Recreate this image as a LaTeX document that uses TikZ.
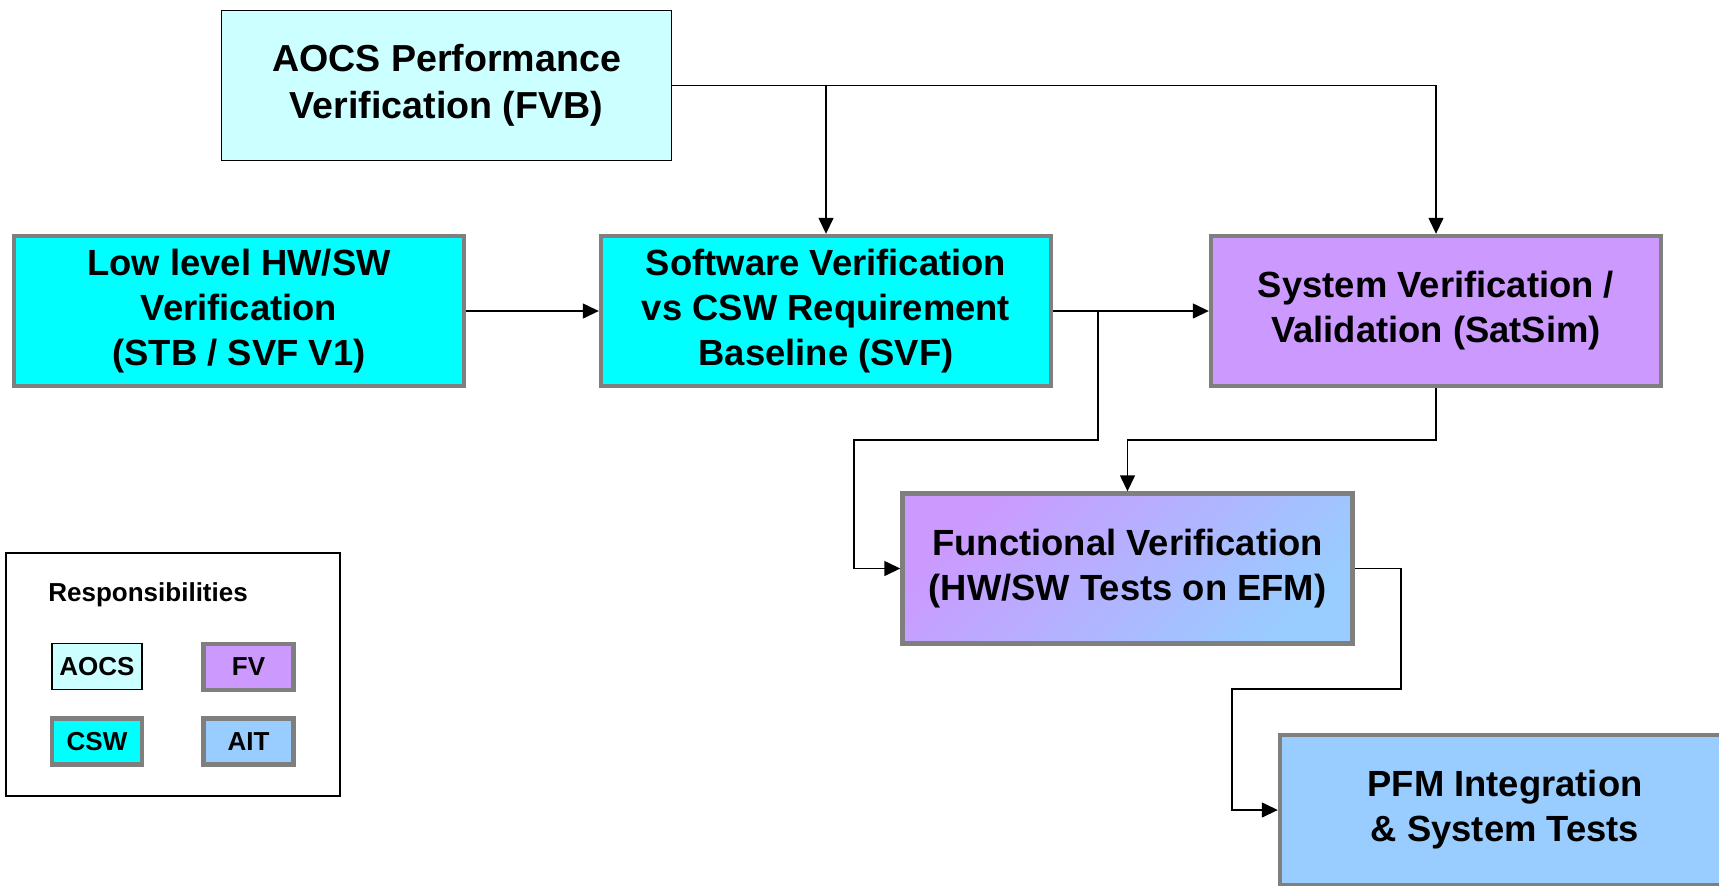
\documentclass[tikz,border=0pt]{standalone}
\usepackage{fontspec}
\setmainfont{Liberation Sans}
\usetikzlibrary{arrows.meta}
\definecolor{aocsfill}{HTML}{CCFFFF}
\definecolor{cswfill}{HTML}{00FFFF}
\definecolor{fvfill}{HTML}{CC99FF}
\definecolor{aitfill}{HTML}{99CCFF}
\definecolor{bordergray}{HTML}{7F7F7F}
\tikzset{
  mainbox/.style={draw=bordergray, line width=2.2pt, inner sep=0pt,
    minimum width=225pt, minimum height=75pt, align=center,
    font=\fontsize{18.2}{22.5}\selectfont\bfseries},
  aocsbox/.style={draw=black, line width=0.7pt, fill=aocsfill, inner sep=0pt,
    minimum width=225pt, minimum height=75pt, align=center,
    font=\fontsize{18.8}{23.5}\selectfont\bfseries},
  legfont/.style={font=\fontsize{13}{15}\selectfont\bfseries},
  legbox/.style={draw=bordergray, line width=2.2pt, inner sep=0pt,
    minimum width=45pt, minimum height=23pt, legfont},
  arr/.style={draw=black, line width=0.7pt, -{Triangle[length=8pt,width=7.5pt]}},
  conn/.style={draw=black, line width=0.7pt}
}
\begin{document}
\begin{tikzpicture}[x=0.5pt,y=-0.5pt]
\useasboundingbox (0,0) rectangle (1719,885);
\clip (0,0) rectangle (1719,885);
\fill[white] (0,0) rectangle (1719,885);

% main boxes
\node[aocsbox] (aocs) at (446.5,85.5) {AOCS Performance\\Verification (FVB)};
\node[mainbox, fill=cswfill] (low) at (239,311) {Low level HW/SW\\Verification\\(STB / SVF V1)};
\node[mainbox, fill=cswfill] (sw) at (826,311) {Software Verification\\vs CSW Requirement\\Baseline (SVF)};
\node[mainbox, fill=fvfill] (sys) at (1436,311) {System Verification /\\Validation (SatSim)};
\node[mainbox, top color=fvfill, bottom color=aitfill, shading angle=45] (func) at (1127.5,568.5) {Functional Verification\\(HW/SW Tests on EFM)};
\node[mainbox, fill=aitfill] (pfm) at (1505,810) {PFM Integration\\\& System Tests};

% legend
\node[draw=black, line width=0.6pt, minimum width=167pt, minimum height=121.5pt, inner sep=0pt] (legend) at (173,674.5) {};
\node[anchor=west, inner sep=0pt, legfont] (resp) at (48,595) {Responsibilities};
\node[draw=black, line width=0.7pt, fill=aocsfill, inner sep=0pt, minimum width=45pt, minimum height=23pt, legfont] (lgaocs) at (97,666.5) {AOCS};
\node[legbox, fill=fvfill] (lgfv) at (248.5,667) {FV};
\node[legbox, fill=cswfill] (lgcsw) at (97,741.5) {CSW};
\node[legbox, fill=aitfill] (lgait) at (248.5,741.5) {AIT};

% junction coordinates
\coordinate (b1) at (1098,311);
\coordinate (j1) at (1098,440);
\coordinate (j2) at (854,440);
\coordinate (k1) at (1401,689);
\coordinate (k2) at (1232,689);

% connectors
\draw[arr] (aocs.east) -| (sys.north);
\draw[arr] (aocs.east -| sw.north) -- (sw.north);
\draw[arr] (low.east) -- (sw.west);
\draw[arr] (sw.east) -- (sys.west);
\draw[arr] (b1) -- (j1) -- (j2) |- (func.west);
\draw[arr] (sys.south) -- (sys.south |- j1) -| (func.north);
\draw[arr] (func.east) -| (k1) -- (k2) |- (pfm.west);
\end{tikzpicture}
\end{document}
